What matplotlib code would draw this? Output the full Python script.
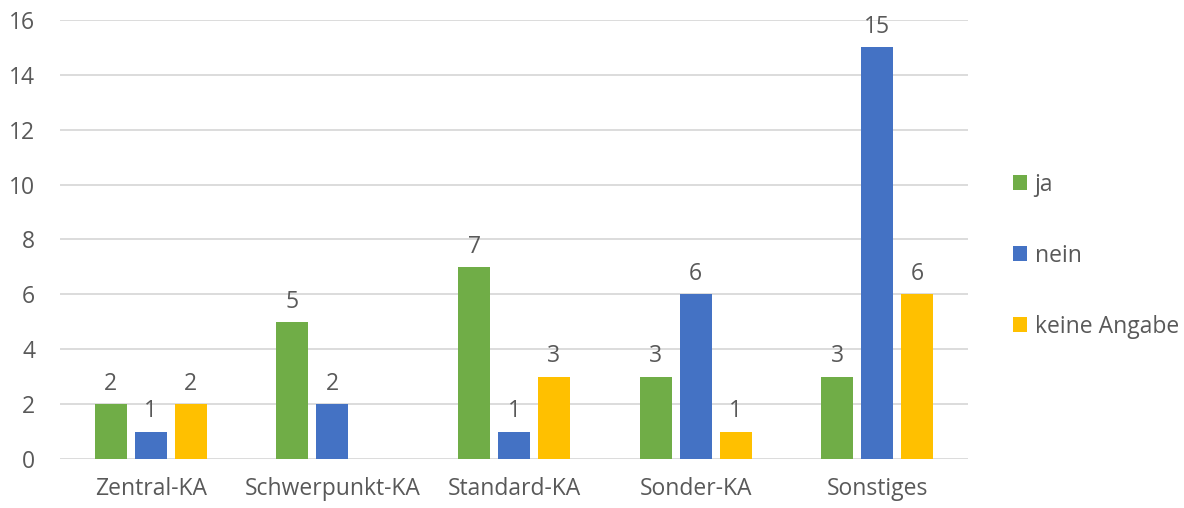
import matplotlib
matplotlib.use("Agg")
import matplotlib.pyplot as plt
import numpy as np
from matplotlib.patches import Patch

categories = ["Zentral-KA", "Schwerpunkt-KA", "Standard-KA", "Sonder-KA", "Sonstiges"]
series_names = ["ja", "nein", "keine Angabe"]
ja = [2, 5, 7, 3, 3]
nein = [1, 2, 1, 6, 15]
keine_angabe = [2, None, 3, 1, 6]
colors = ["#70AD47", "#4472C4", "#FFC000"]
yticks = [0, 2, 4, 6, 8, 10, 12, 14, 16]

plt.rcParams['font.family'] = ['Open Sans', 'DejaVu Sans']
txt = "#595959"
fs = 16.5

fig = plt.figure(figsize=(11.84, 5.08), dpi=100)
ax = fig.add_axes([0.0507, 0.0965, 0.7669, 0.8641])

x = np.arange(len(categories))
w = 0.176
offs = [-0.22, 0.0, 0.22]
for vals, off, c in zip([ja, nein, keine_angabe], offs, colors):
    for xi, v in zip(x, vals):
        if v is None:
            continue
        ax.bar(xi + off, v, width=w, color=c, zorder=3)
        ax.text(xi + off, v + 0.3, str(v), ha="center", va="bottom", fontsize=fs, color=txt)

ax.set_xlim(-0.5, len(categories) - 0.5)
ax.set_ylim(0, 16)
ax.set_yticks(yticks)
ax.set_xticks(x)
ax.set_xticklabels(categories)
ax.yaxis.grid(True, color="#D9D9D9", linewidth=1.3, zorder=0)
for s in ax.spines.values():
    s.set_visible(False)
ax.tick_params(axis="both", length=0, labelsize=fs, labelcolor=txt)
ax.tick_params(axis="y", pad=18)
ax.tick_params(axis="x", pad=13)

handles = [Patch(facecolor=c, label=n) for c, n in zip(colors, series_names)]
fig.legend(handles=handles, loc="center left", bbox_to_anchor=(0.838, 0.497),
           frameon=False, fontsize=fs, labelcolor=txt, labelspacing=2.05,
           handlelength=0.6, handleheight=0.6, handletextpad=0.35)

fig.savefig("out.png", dpi=100)
